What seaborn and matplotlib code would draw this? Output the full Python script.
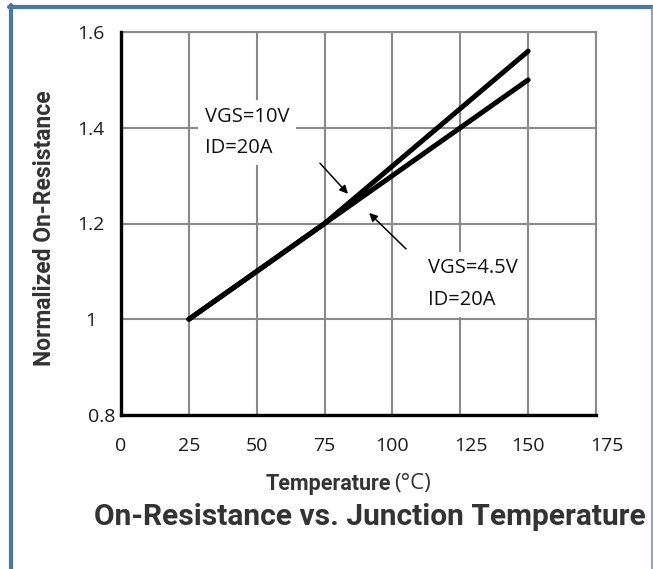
import matplotlib
matplotlib.use("Agg")
import matplotlib.pyplot as plt
import matplotlib.font_manager as fm
from matplotlib.lines import Line2D
from matplotlib.transforms import ScaledTranslation
import seaborn as sns
import pandas as pd

# ---- data ----
temp_10v = [25, 75, 150]
rds_10v = [1.00, 1.20, 1.56]
temp_45v = [25, 150]
rds_45v = [1.00, 1.50]
x_ticks = [0, 25, 50, 75, 100, 125, 150, 175]
y_ticks = [0.8, 1.0, 1.2, 1.4, 1.6]
y_tick_labels = ["0.8", "1", "1.2", "1.4", "1.6"]
label_10v = "VGS=10V\nID=20A"
label_45v = "VGS=4.5V\nID=20A"

sns.set_theme(style="white")
names = {f.name for f in fm.fontManager.ttflist}
narrow = "Liberation Sans Narrow" if "Liberation Sans Narrow" in names else "Roboto"
regular = "Open Sans" if "Open Sans" in names else "DejaVu Sans"
plt.rcParams["font.family"] = [regular, "DejaVu Sans"]

W, H = 653, 569
fig = plt.figure(figsize=(W / 100, H / 100), dpi=100)
fig.patch.set_facecolor("white")
ax = fig.add_axes([121 / W, 1 - 415 / H, 475 / W, 383 / H])

df = pd.concat([
    pd.DataFrame({"T": temp_10v, "R": rds_10v, "s": "10V"}),
    pd.DataFrame({"T": temp_45v, "R": rds_45v, "s": "4.5V"}),
])
sns.lineplot(data=df, x="T", y="R", hue="s", palette=["black", "black"],
             linewidth=3.6, legend=False, ax=ax, sort=False, estimator=None)
for ln in ax.lines:
    ln.set_solid_capstyle("round")

ax.set_xlim(0, 175)
ax.set_ylim(0.8, 1.6)
ax.set_xticks(x_ticks)
ax.set_yticks(y_ticks)
ax.set_yticklabels(y_tick_labels)
ax.set_xlabel("")
ax.set_ylabel("")
ax.grid(True, color="#8a8a8a", linewidth=1.5)
ax.set_axisbelow(True)
for side in ("top", "right"):
    ax.spines[side].set_color("#8a8a8a")
    ax.spines[side].set_linewidth(1.5)
for side in ("left", "bottom"):
    ax.spines[side].set_color("black")
    ax.spines[side].set_linewidth(2.4)
    ax.spines[side].set_zorder(3)

ax.tick_params(axis="both", length=0, labelsize=14, labelcolor="#1a1a1a")
ax.tick_params(axis="x", pad=16)
ax.tick_params(axis="y", pad=22)
for lab in ax.get_yticklabels():
    lab.set_horizontalalignment("center")
    if lab.get_text() == "0.8":
        lab.set_transform(lab.get_transform() + ScaledTranslation(0.11, 0, fig.dpi_scale_trans))
for lab in ax.get_xticklabels():
    if lab.get_text() in ("125", "175"):
        lab.set_transform(lab.get_transform() + ScaledTranslation(0.11, 0, fig.dpi_scale_trans))

# annotations
ax.text(31, 1.390, label_10v, ha="left", va="center", fontsize=14.5, color="#111111",
        linespacing=1.78, bbox=dict(facecolor="white", edgecolor="none", pad=5), zorder=4)
ax.text(113, 1.073, label_45v, ha="left", va="center", fontsize=14.5, color="#111111",
        linespacing=1.78, bbox=dict(facecolor="white", edgecolor="none", pad=5), zorder=4)
ax.annotate("", xy=(83.6, 1.262), xytext=(73.3, 1.326),
            arrowprops=dict(arrowstyle="-|>", color="black", lw=1.1, mutation_scale=12,
                            shrinkA=0, shrinkB=0), zorder=5)
ax.annotate("", xy=(91.4, 1.222), xytext=(105, 1.147),
            arrowprops=dict(arrowstyle="-|>", color="black", lw=1.1, mutation_scale=12,
                            shrinkA=0, shrinkB=0), zorder=5)

# axis labels and title
fig.text(45 / W, 1 - 228 / H, "Normalized On-Resistance", rotation=90, ha="center", va="center",
         fontsize=16.5, fontweight="bold", family=[narrow, "DejaVu Sans"], color="#333333")
fig.text(391 / W, 1 - 484 / H, "Temperature", ha="right", va="center",
         fontsize=15.5, fontweight="bold", family=[narrow, "DejaVu Sans"], color="#333333")
fig.text(394 / W, 1 - 484 / H, "(°C)", ha="left", va="center",
         fontsize=16, family=[regular, "DejaVu Sans"], color="#333333")
fig.text(370 / W, 1 - 517 / H, "On-Resistance vs. Junction Temperature", ha="center", va="center",
         fontsize=21.5, fontweight="bold", family=[narrow, "DejaVu Sans"], color="#333333")

# blue frame
blue = "#4a76a8"
fig.add_artist(Line2D([11 / W, 11 / W], [0, 1 - 5 / H], color=blue, linewidth=3.0,
                      transform=fig.transFigure))
fig.add_artist(Line2D([9 / W, 653 / W], [1 - 7 / H, 1 - 7 / H], color=blue, linewidth=3.0,
                      transform=fig.transFigure))
fig.add_artist(Line2D([652 / W, 652 / W], [0, 1 - 7 / H], color="#6f95c0", linewidth=1.2,
                      transform=fig.transFigure))

fig.savefig("out.png", dpi=100, facecolor="white")
